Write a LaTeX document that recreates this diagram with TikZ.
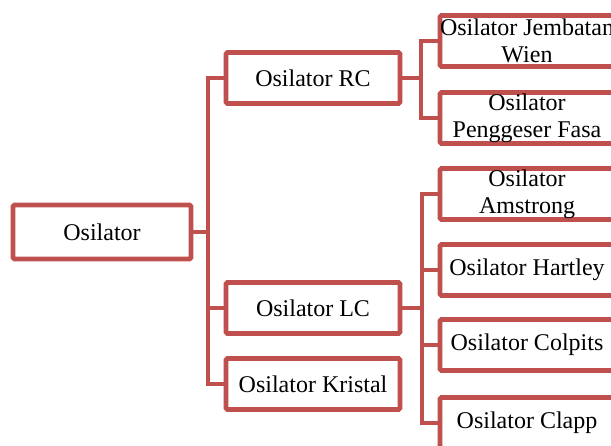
\documentclass[tikz,border=0pt]{standalone}
\usepackage{fontspec}
\setmainfont{Liberation Serif}
\usepackage{tikz}
\definecolor{osred}{RGB}{192,80,77}
\tikzset{box/.style = {draw=osred,line width=2.4pt,rounded corners=0.8pt,fill=white,
    minimum width=87pt,minimum height=25.5pt,inner sep=0pt,align=center,
    font=\fontsize{12}{13.5}\selectfont},
  link/.style = {draw=osred,line width=2.4pt}}

\begin{document}
\begin{tikzpicture}[x=0.5pt,y=-0.5pt]
    \useasboundingbox (0,0) rectangle (611,445);
    \clip (0,0) rectangle (611,445);
    % root and first level
    \node [box,minimum width=89pt,minimum height=27pt] (osc) at (102,232) {Osilator};
    \foreach \name/\y/\txt in {rc/78/Osilator RC,lc/308/Osilator LC,kristal/384/Osilator Kristal} {
        \node [box] (\name) at (313,\y) {\txt};
    }
    % second level
    \foreach \name/\y/\txt in {wien/41/{Osilator Jembatan\\Wien},fasa/118/{Osilator\\Penggeser Fasa},
        amstrong/194/{Osilator\\Amstrong},hartley/270/Osilator Hartley,
        colpits/345/Osilator Colpits,clapp/423/Osilator Clapp} {
        \node [box] (\name) at (527,\y) {\txt};
    }
    \coordinate (trunk) at (208,232);
    \coordinate (rcfork) at (421,78);
    \coordinate (lcfork) at (422,308);
    \draw [link] (osc.east) -- (trunk);
    \foreach \k in {rc,lc,kristal} {
        \draw [link] (trunk) |- (\k.west);
    }
    \draw [link] (rc.east) -- (rcfork);
    \foreach \k in {wien,fasa} {
        \draw [link] (rcfork) |- (\k.west);
    }
    \draw [link] (lc.east) -- (lcfork);
    \foreach \k in {amstrong,hartley,colpits,clapp} {
        \draw [link] (lcfork) |- (\k.west);
    }
\end{tikzpicture}
\end{document}
